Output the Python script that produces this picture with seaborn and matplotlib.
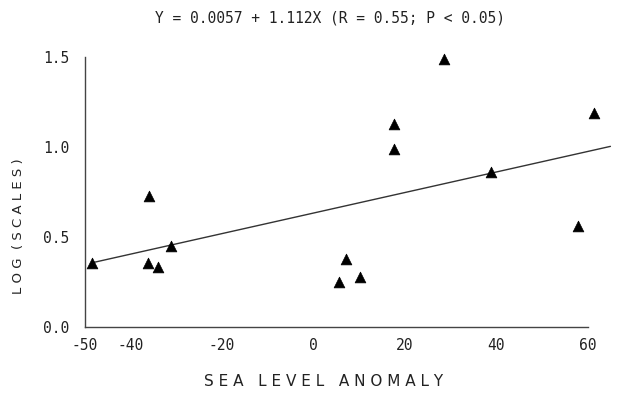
import matplotlib
matplotlib.use("Agg")
import matplotlib.pyplot as plt
import seaborn as sns
import numpy as np
import pandas as pd

# ---- data ----
sea_level = [-48.5, -36.0, -36.2, -34.0, -31.2, 5.6, 7.1, 10.2, 17.6, 17.6, 28.6, 38.8, 57.9, 61.4]
log_scales = [0.356, 0.73, 0.356, 0.333, 0.45, 0.25, 0.38, 0.28, 1.13, 0.99, 1.49, 0.86, 0.56, 1.19]
fit_intercept = 0.633
fit_slope = 0.0057
fit_x_range = [-48.5, 65.0]
x_ticks = [-50, -40, -30, -20, -10, 0, 10, 20, 30, 40, 50, 60]
x_tick_labels = ["-50", "-40", "", "-20", "", "0", "", "20", "", "40", "", "60"]
y_ticks = [0.0, 0.5, 1.0, 1.5]
y_tick_labels = ["0.0", "0.5", "1.0", "1.5"]
title_text = "Y = 0.0057 + 1.112X (R = 0.55; P < 0.05)"
x_label = "S E A   L E V E L   A N O M A L Y"
y_label = "L O G  ( S C A L E S )"

sns.set_theme(style="white")
plt.rcParams['font.family'] = ['DejaVu Sans Mono', 'DejaVu Sans']

df = pd.DataFrame({"x": sea_level, "y": log_scales})
fit_df = pd.DataFrame({"x": fit_x_range,
                       "y": [fit_intercept + fit_slope * v for v in fit_x_range]})

fig = plt.figure(figsize=(6.19, 3.99), dpi=100)
ax = fig.add_axes([85 / 619, 72 / 399, 530 / 619, 270 / 399])

sns.lineplot(data=fit_df, x="x", y="y", ax=ax, color="#333333", linewidth=1.0)
sns.scatterplot(data=df, x="x", y="y", ax=ax, marker="^", s=60, color="black",
                edgecolor="black", linewidth=0.5, clip_on=False, zorder=3)

ax.set_xlim(-50, 66)
ax.set_ylim(0, 1.5)
ax.spines["top"].set_visible(False)
ax.spines["right"].set_visible(False)
for s in ["left", "bottom"]:
    ax.spines[s].set_color("#444444")
    ax.spines[s].set_linewidth(1.0)
ax.spines["bottom"].set_bounds(-50, 60)
ax.spines["left"].set_bounds(0, 1.5)

ax.set_xticks(x_ticks)
ax.set_xticklabels(x_tick_labels)
ax.set_yticks(y_ticks)
ax.set_yticklabels(y_tick_labels)
ax.tick_params(axis="both", direction="in", length=2, width=0.8, color="#444444",
               labelsize=10.5, labelcolor="#222222")
ax.tick_params(axis="x", pad=8)
ax.tick_params(axis="y", pad=11)

ax.set_xlabel(x_label, fontsize=11, family="DejaVu Sans", color="#222222")
ax.set_ylabel(y_label, fontsize=9.5, family="DejaVu Sans", color="#222222")
ax.xaxis.set_label_coords(0.451, -0.20)
ax.yaxis.set_label_coords(-0.126, 0.374)
ax.xaxis.label.set_va("center")
ax.yaxis.label.set_va("center")

fig.text(330 / 619, 1 - 18 / 399, title_text, ha="center", va="center",
         fontsize=10.5, color="#222222")

fig.savefig("out.png", dpi=100, facecolor="white")
